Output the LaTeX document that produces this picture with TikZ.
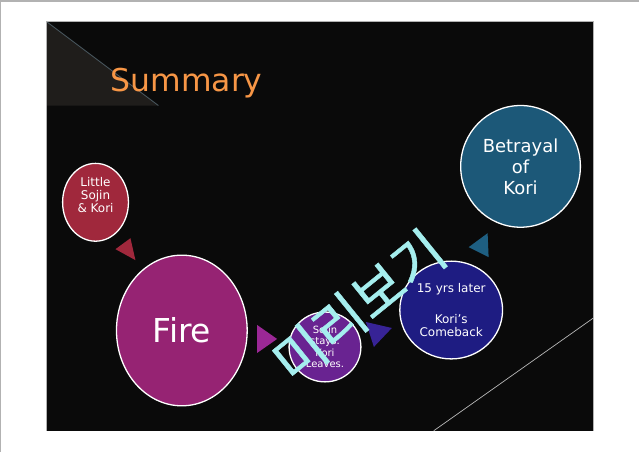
\documentclass[tikz,border=0pt]{standalone}
\usepackage{fontspec}
\setmainfont{DejaVu Sans}
\newfontfamily\krfont[FakeBold=0.8]{Noto Sans CJK KR}
\usetikzlibrary{shapes.geometric}
\definecolor{slidebg}{RGB}{10,10,10}
\definecolor{cornergray}{RGB}{31,29,27}
\definecolor{edgeteal}{RGB}{75,90,98}
\definecolor{titleorange}{RGB}{247,150,70}
\definecolor{redbub}{RGB}{160,40,60}
\definecolor{firemag}{RGB}{150,35,115}
\definecolor{arrowmag}{RGB}{155,40,150}
\definecolor{stayspurple}{RGB}{105,35,145}
\definecolor{arrowindigo}{RGB}{55,35,150}
\definecolor{comebacknavy}{RGB}{30,28,130}
\definecolor{betrayteal}{RGB}{28,88,120}
\definecolor{arrowteal}{RGB}{30,95,130}
\definecolor{wmcyan}{RGB}{165,238,238}

\begin{document}
\begin{tikzpicture}[
          x=1pt, y=-1pt,
          bubble/.style={ellipse, draw=white, line width=1.3pt, inner sep=0pt, align=center, text=white},
          wmark/.style={rotate=39, text=wmcyan, font=\krfont\fontsize{55}{55}\selectfont}
        ]
          % Page and slide
          \fill[white] (0,0) rectangle (640,452);
          \draw[gray!60, line width=1.5pt] (0,452) -- (0,0) -- (640,0);
          \fill[slidebg] (46,21) rectangle (594,431);
          \fill[cornergray] (46,21) -- (46,105) -- (158,105) -- cycle;
          \draw[edgeteal, line width=0.8pt] (46,21) -- (158,105);
          \draw[gray!60, line width=1pt] (46,431) -- (46,21) -- (594,21) -- (594,431);
          \draw[gray!55, line width=0.7pt] (434,431) -- (594,318);

          % Title
          \node[anchor=base west, inner sep=0pt, text=titleorange, font=\fontsize{31.5}{36}\selectfont] (title) at (110,91) {Summary};

          % Bubbles
          \node[bubble, fill=redbub, minimum width=66pt, minimum height=78pt] (little) at (95,202) {};
          \node[text=white, align=center, font=\fontsize{12}{13}\selectfont] (littletxt) at (95,195) {Little\\Sojin\\\& Kori};
          \node[bubble, fill=firemag, minimum width=131pt, minimum height=151pt, font=\fontsize{33}{38}\selectfont] (fire) at (181.5,330.5) {Fire};
          \node[bubble, fill=stayspurple, minimum width=72pt, minimum height=70pt, font=\fontsize{10}{11.5}\selectfont] (stays) at (325,347) {Sojin\\stays.\\Kori\\Leaves.};
          \node[bubble, fill=comebacknavy, minimum width=103pt, minimum height=98pt, font=\fontsize{12}{13}\selectfont] (comeback) at (451.5,310) {15 yrs later\\[6pt]\\Kori’s\\Comeback};
          \node[bubble, fill=betrayteal, minimum width=120pt, minimum height=122pt, font=\fontsize{18}{21}\selectfont] (betrayal) at (521,166) {Betrayal\\of\\Kori};

          % Arrow heads
          \fill[redbub] (115,249) -- (130,238) -- (135,260) -- cycle;
          \fill[arrowmag] (257,325) -- (277,339) -- (257,353) -- cycle;
          \fill[arrowindigo] (366,322) -- (392,328) -- (374,347) -- cycle;
          \fill[arrowteal] (469,247) -- (488,233) -- (489,257) -- cycle;

          % Watermark
          \node[wmark] (preview) at (359,306) {미리보기};
        \end{tikzpicture}
\end{document}
